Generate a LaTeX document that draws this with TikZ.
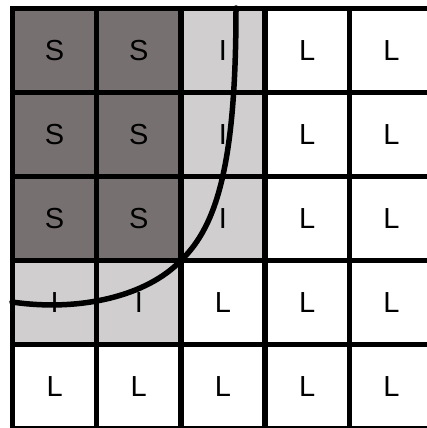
\documentclass[tikz,border=0pt]{standalone}
\usepackage{fontspec}
\setmainfont{Liberation Sans}
\definecolor{solidgray}{RGB}{118,113,112}
\definecolor{intergray}{RGB}{208,206,207}
\tikzset{
  cellbox/.style={draw=black, line width=5.5pt, minimum width=84.2pt, minimum height=84pt,
    inner sep=0pt, outer sep=0pt, font=\fontsize{29}{29}\selectfont, text=black},
  Sbox/.style={cellbox, fill=solidgray},
  Ibox/.style={cellbox, fill=intergray},
  Lbox/.style={cellbox, fill=white},
  boundary/.style={line width=5.5pt, draw=black, line cap=round}
}
\begin{document}
\begin{tikzpicture}[x=1pt,y=-1pt]
\useasboundingbox (0,0) rectangle (427,428);
\clip (0,0) rectangle (427,428);
\fill[white] (0,0) rectangle (427,428);
% rows: 0..4, columns 0..4
\foreach \r/\row in {0/{S,S,I,L,L},1/{S,S,I,L,L},2/{S,S,I,L,L},3/{I,I,L,L,L},4/{L,L,L,L,L}}{
  \foreach \t [count=\c from 0] in \row {
    \node[\t box] (c-\r-\c) at ({12.5+84.2*(\c+0.5)},{8.5+84*(\r+0.5)}) {\t};
  }
}
\coordinate (b0) at (236,8);
\coordinate (b1) at (c-2-1.south east);
\coordinate (b2) at (12,302);
\draw[boundary] (b0) .. controls (236,160) and (218,225) .. (b1)
  .. controls (147,296) and (80,312) .. (b2);
\end{tikzpicture}
\end{document}
